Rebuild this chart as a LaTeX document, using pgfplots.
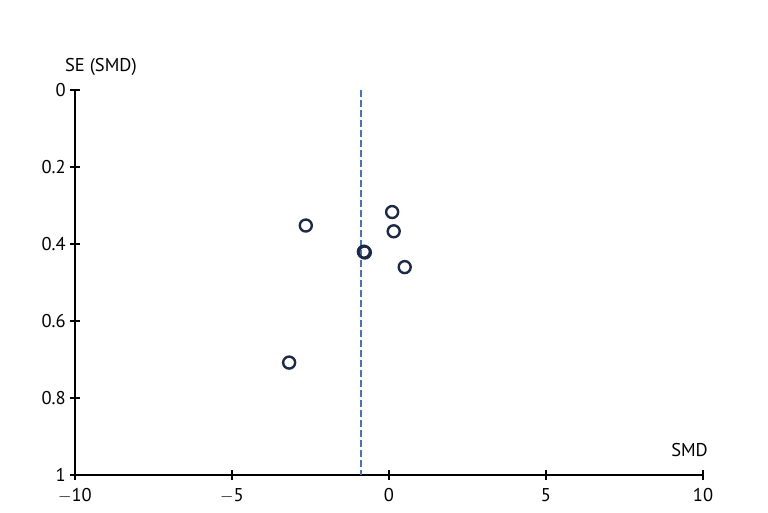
\documentclass[border=0pt]{standalone}
\usepackage{pgfplots}
\pgfplotsset{compat=1.18}
\usepackage{fontspec}
\setmainfont{PT Sans}
\definecolor{mk}{HTML}{1B2A47}
\definecolor{dashblue}{HTML}{4A72C0}
\begin{document}
\fontsize{18.5pt}{22pt}\selectfont
\begin{tikzpicture}
\path[use as bounding box] (-75pt,-38pt) rectangle (693pt,475pt);
\begin{axis}[
  name=ax,
  at={(0,0)}, anchor=south west,
  scale only axis, width=628pt, height=385pt,
  xmin=-10, xmax=10, ymin=0, ymax=1,
  y dir=reverse,
  axis x line*=bottom, axis y line*=left,
  axis line style={line width=1.6pt, -},
  xtick={-10,-5,0,5,10},
  xticklabels={$-$10,$-$5,0,5,10},
  ytick={0,0.2,0.4,0.6,0.8,1},
  yticklabels={0,0.2,0.4,0.6,0.8,1},
  tick align=center,
  major tick length=10pt,
  tick style={line width=1.6pt, black},
  /pgf/number format/assume math mode=true,
  ticklabel style={font=\fontsize{18.5pt}{22pt}\selectfont},
  xticklabel style={yshift=-2pt},
  yticklabel style={xshift=2pt},
  clip=false,
]
\addplot[draw=dashblue, line width=2pt, dash pattern=on 7pt off 3pt] coordinates {(-0.88,0) (-0.88,1)};
\addplot[only marks, mark=o, mark size=6pt, mark options={line width=2.4pt, draw=mk}]
  coordinates {
  (-2.65,0.352)
  (0.10,0.317)
  (0.15,0.367)
  (-0.77,0.422)
  (-0.80,0.420)
  (0.50,0.460)
  (-3.18,0.708)
  };
\node[anchor=base west, inner sep=0pt] at (axis description cs:-0.016,1.048) {SE (SMD)};
\node[anchor=base east, inner sep=0pt] at (axis description cs:1.008,0.047) {SMD};
\end{axis}
\end{tikzpicture}
\end{document}
